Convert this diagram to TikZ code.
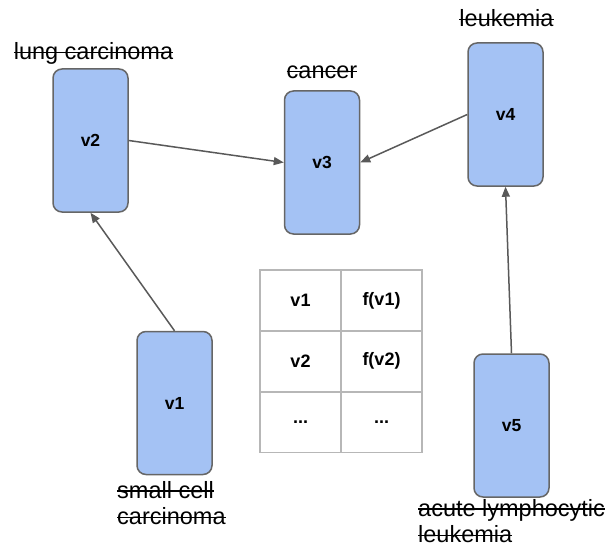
\documentclass[tikz,border=0pt]{standalone}
\usepackage{fontspec}
\setmainfont{Liberation Sans}
\usetikzlibrary{arrows.meta, positioning}
\definecolor{boxblue}{HTML}{A4C2F4}
\definecolor{boxline}{HTML}{666666}
\definecolor{edgegray}{HTML}{595959}
\definecolor{gridgray}{HTML}{B7B7B7}
% struck-out word: a rule drawn through the text
\newcommand{\strikeout}[1]{\setbox0\hbox{#1}\rlap{\rule[0.28em]{\wd0}{1.4pt}}\box0}
\newcommand{\cellmore}{...}
\tikzset{x=1pt, y=-1pt,
  vertex/.style={ % Sets the properties for each vertex box
    draw=boxline, line width=1.5pt,
    fill=boxblue,
    rounded corners=9pt,
    minimum width=75pt, minimum height=143pt,
    font=\fontsize{17.5}{20}\selectfont\bfseries},
  term/.style={ % Struck-out term above or below a box
    inner sep=0pt,
    font=\fontsize{23.5}{26.5}\selectfont},
  cell/.style={ % One field of the lookup table
    draw=gridgray, line width=1.5pt,
    minimum width=81pt, minimum height=61pt,
    font=\fontsize{18}{20}\selectfont\bfseries},
  link/.style={
    draw=edgegray, line width=1.5pt,
    -{Triangle[length=10pt, width=8pt]}}}

\begin{document}
\begin{tikzpicture}
  \useasboundingbox (0,0) rectangle (612,548);
  % vertices
  \node[vertex] (v1) at (174.5,403) {v1};
  \node[vertex] (v2) at (90.5,140.5) {v2};
  \node[vertex] (v3) at (322,162.5) {v3};
  \node[vertex] (v4) at (505.5,114.5) {v4};
  \node[vertex] (v5) at (511.5,425.5) {v5};
  % terms
  \node[term, anchor=base] (t2) at (93.5,60) {\strikeout{lung carcinoma}};
  \node[term, anchor=base] (t3) at (322,79) {\strikeout{cancer}};
  \node[term, anchor=base] (t4) at (506.5,27) {\strikeout{leukemia}};
  \node[term, align=left, anchor=north west] (t1) at (117,481) {\strikeout{small cell}\\\strikeout{carcinoma}};
  \node[term, align=left, anchor=north west] (t5) at (418,499) {\strikeout{acute lymphocytic}\\\strikeout{leukemia}};
  % edges
  \draw[link] (v1.north) -- (v2.south);
  \draw[link] (v2.east) -- (v3.west);
  \draw[link] (v4.west) -- (v3.east);
  \draw[link] (v5.north) -- (v4.south);
  % table
  \foreach \r/\a/\b in {0/v1/{f(v1)}, 1/v2/{f(v2)}, 2/\cellmore/\cellmore} {
    \node[cell] (c\r a) at (300.5,300.5+60.8*\r) {\a};
    \node[cell] (c\r b) at (381.5,300.5+60.8*\r) {\b};
  }
\end{tikzpicture}
\end{document}
